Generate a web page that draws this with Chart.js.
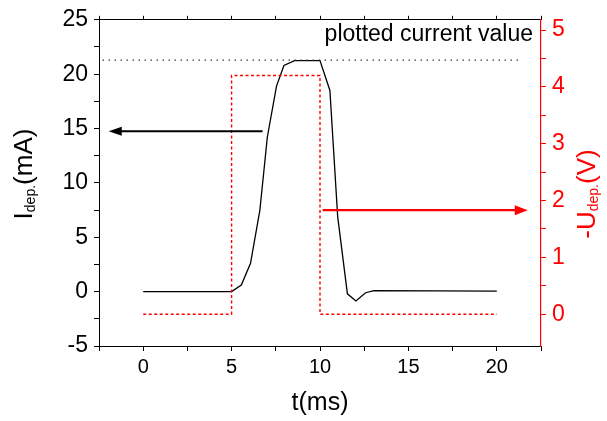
<!DOCTYPE html>
<html>
<head>
<meta charset="utf-8">
<script src="https://cdn.jsdelivr.net/npm/chart.js@4/dist/chart.umd.min.js"></script>
<style>
  html, body { margin: 0; padding: 0; background: #fff; }
  canvas { display: block; }
</style>
</head>
<body>
<canvas id="c" width="607" height="421"></canvas>
<script>
// Deposition current pulse, time in ms and current in mA
const currentTime = [0, 5.0, 5.55, 6.07, 6.6, 7.02, 7.54, 7.96, 8.56, 10.0, 10.56, 11.0, 11.55, 12.03, 12.58, 13.05, 20.0];
const currentValue = [0, 0, 0.6, 2.6, 7.5, 14.2, 18.9, 20.8, 21.25, 21.25, 18.5, 6.9, -0.2, -0.85, -0.1, 0.1, 0.05];

// Applied deposition voltage (-U), rectangular pulse
const voltageTime = [0, 5, 5, 10, 10, 20];
const voltageValue = [0, 0, 4.2, 4.2, 0, 0];

// Reference level of the plotted current value
const refLevelTime = [-2.3, 21.4];
const refLevelValue = [21.3, 21.3];

// Arrows pointing at the axis each curve belongs to
const currentArrow = { from: 6.75, to: -1.95, level: 14.75 };
const voltageArrow = { from: 10.15, to: 21.75, level: 1.83 };

// Tick positions
const timeTicks = [-2.5, 0, 2.5, 5, 7.5, 10, 12.5, 15, 17.5, 20, 22.5];
const currentTicks = [-5, -2.5, 0, 2.5, 5, 7.5, 10, 12.5, 15, 17.5, 20, 22.5, 25];
const voltageTicks = [0, 0.5, 1, 1.5, 2, 2.5, 3, 3.5, 4, 4.5, 5];

const FONT = '"Liberation Sans", Arial, sans-serif';
const RED = '#ff0000';

const toPoints = (xs, ys) => xs.map((x, i) => ({ x: x, y: ys[i] }));
const setTicks = values => scale => { scale.ticks = values.map(v => ({ value: v })); };

function arrow(ctx, x1, y, x2, color, width, headLen, headHalf) {
  const dir = Math.sign(x2 - x1);
  ctx.save();
  ctx.strokeStyle = color;
  ctx.fillStyle = color;
  ctx.lineWidth = width;
  ctx.beginPath();
  ctx.moveTo(x1, y);
  ctx.lineTo(x2 - dir * headLen * 0.8, y);
  ctx.stroke();
  ctx.beginPath();
  ctx.moveTo(x2, y);
  ctx.lineTo(x2 - dir * headLen, y - headHalf);
  ctx.lineTo(x2 - dir * headLen, y + headHalf);
  ctx.closePath();
  ctx.fill();
  ctx.restore();
}

// Rotated title made of runs; a run with "shift" is a lowered subscript
function rotatedTitle(ctx, cx, cy, runs, color) {
  ctx.save();
  ctx.translate(cx, cy);
  ctx.rotate(-Math.PI / 2);
  ctx.fillStyle = color;
  ctx.textBaseline = 'alphabetic';
  ctx.textAlign = 'left';
  let total = 0;
  runs.forEach(r => { ctx.font = r.size + 'px ' + FONT; r.w = ctx.measureText(r.text).width; total += r.w; });
  let x = -total / 2;
  runs.forEach(r => {
    ctx.font = r.size + 'px ' + FONT;
    ctx.fillText(r.text, x, r.shift || 0);
    x += r.w;
  });
  ctx.restore();
}

const annotations = {
  id: 'annotations',
  afterDatasetsDraw(chart) {
    const { ctx, scales } = chart;
    const xs = scales.x, ys = scales.y, vs = scales.y2;
    arrow(ctx, xs.getPixelForValue(currentArrow.from), ys.getPixelForValue(currentArrow.level),
      xs.getPixelForValue(currentArrow.to), '#000', 2, 13, 4.5);
    arrow(ctx, xs.getPixelForValue(voltageArrow.from), vs.getPixelForValue(voltageArrow.level),
      xs.getPixelForValue(voltageArrow.to), RED, 2.2, 13, 5);

    const area = chart.chartArea;
    ctx.save();
    ctx.fillStyle = '#000';
    ctx.font = '23px ' + FONT;
    ctx.textAlign = 'right';
    ctx.textBaseline = 'alphabetic';
    ctx.fillText('plotted current value', area.right - 8, area.top + 21);

    ctx.font = '25px ' + FONT;
    ctx.textAlign = 'center';
    ctx.fillText('t(ms)', (area.left + area.right) / 2, 410);
    ctx.restore();

    rotatedTitle(ctx, 32, 174, [
      { text: 'I', size: 26 },
      { text: 'dep.', size: 14, shift: 3 },
      { text: '(mA)', size: 26 }
    ], '#000');
    rotatedTitle(ctx, 595, 194, [
      { text: '-U', size: 26 },
      { text: 'dep.', size: 14, shift: 3 },
      { text: '(V)', size: 26 }
    ], RED);
  }
};

new Chart(document.getElementById('c'), {
  type: 'line',
  data: {
    datasets: [
      {
        data: toPoints(refLevelTime, refLevelValue),
        yAxisID: 'y',
        borderColor: '#333',
        borderWidth: 1.2,
        borderDash: [1.5, 4.5],
        pointRadius: 0,
        fill: false
      },
      {
        data: toPoints(voltageTime, voltageValue),
        yAxisID: 'y2',
        borderColor: RED,
        borderWidth: 1.4,
        borderDash: [3, 2.5],
        pointRadius: 0,
        tension: 0,
        fill: false
      },
      {
        data: toPoints(currentTime, currentValue),
        yAxisID: 'y',
        borderColor: '#000',
        borderWidth: 1.3,
        pointRadius: 0,
        tension: 0,
        fill: false
      }
    ]
  },
  options: {
    responsive: false,
    animation: false,
    devicePixelRatio: 1,
    layout: { padding: 0 },
    plugins: { legend: { display: false }, tooltip: { enabled: false } },
    scales: {
      x: {
        type: 'linear',
        position: 'bottom',
        min: -2.5,
        max: 22.5,
        afterBuildTicks: setTicks(timeTicks),
        afterFit: s => { s.height = 75; },
        border: { color: '#000', width: 1 },
        grid: { drawOnChartArea: false, tickLength: 5, color: '#000' },
        ticks: {
          autoSkip: false, maxRotation: 0, padding: 4, color: '#000',
          font: { family: FONT, size: 20 },
          callback: v => (v % 5 === 0 ? String(v) : '')
        }
      },
      xTop: {
        type: 'linear',
        position: 'top',
        min: -2.5,
        max: 22.5,
        afterBuildTicks: setTicks(timeTicks),
        afterFit: s => { s.height = 19; },
        border: { color: '#000', width: 1 },
        grid: { drawOnChartArea: false, tickLength: 4, color: '#000' },
        ticks: { display: false }
      },
      y: {
        type: 'linear',
        position: 'left',
        min: -5,
        max: 25,
        afterBuildTicks: setTicks(currentTicks),
        afterFit: s => { s.width = 99; },
        border: { color: '#000', width: 1 },
        grid: { drawOnChartArea: false, tickLength: 5, color: '#000' },
        ticks: {
          autoSkip: false, padding: 6, color: '#000',
          font: { family: FONT, size: 23 },
          callback: v => (v % 5 === 0 ? String(v) : '')
        }
      },
      y2: {
        type: 'linear',
        position: 'right',
        min: -0.56,
        max: 5.18,
        afterBuildTicks: setTicks(voltageTicks),
        afterFit: s => { s.width = 66; },
        border: { color: RED, width: 1.2 },
        grid: { drawOnChartArea: false, tickLength: 5, color: RED },
        ticks: {
          autoSkip: false, padding: 6, color: RED,
          font: { family: FONT, size: 23 },
          callback: v => (Number.isInteger(v) ? String(v) : '')
        }
      }
    }
  },
  plugins: [annotations]
});
</script>
</body>
</html>
